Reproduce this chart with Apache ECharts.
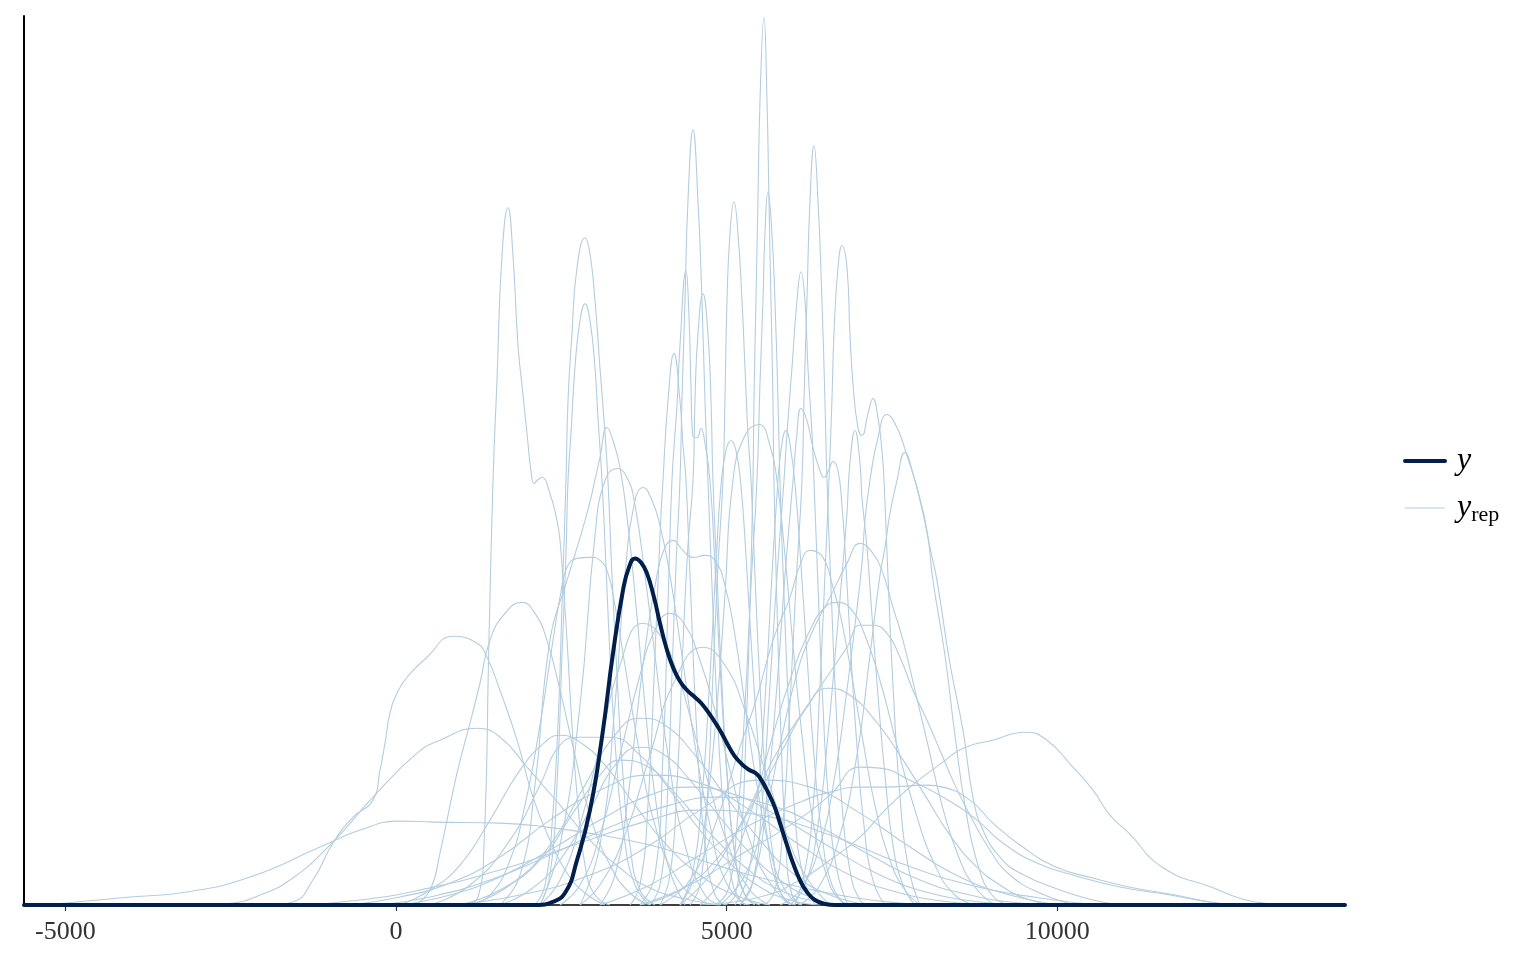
<!DOCTYPE html>
<html>
<head>
<meta charset="utf-8">
<title>ppc density overlay</title>
<script src="https://cdn.jsdelivr.net/npm/echarts@6/dist/echarts.min.js"></script>
<style>
  html, body { margin: 0; padding: 0; background: #fff; }
  #chart { width: 1536px; height: 960px; }
</style>
</head>
<body>
<div id="chart"></div>
<script>
// x tick labels
var xTicks = [-5000, 0, 5000, 10000];

// observed y density, [value, density]
var yObs = [[-5625,0],[2177,0],[2328,2],[2555,12],[2737,45],[2933,95],[3115,168],[3281,252],[3432,315],[3523,338],[3614,347],[3705,343],[3795,332],[3901,308],[3992,282],[4098,255],[4188,238],[4294,224],[4400,215],[4521,208],[4642,200],[4793,186],[4899,175],[5005,162],[5110,150],[5201,143],[5322,136],[5458,131],[5534,124],[5610,115],[5715,100],[5806,82],[5912,60],[6003,42],[6108,25],[6214,13],[6335,5],[6486,1],[6638,0],[14350,0]];

// replicated densities y_rep
var rep01 = [[968,0],[1240,8],[1331,60],[1406,265],[1467,425],[1527,525],[1603,650],[1693,698],[1769,650],[1845,560],[1905,520],[1981,472],[2041,435],[2087,422],[2147,426],[2208,428],[2328,412],[2434,385],[2480,365],[2525,325],[2586,265],[2661,180],[2752,100],[2858,40],[3009,10],[3236,0]];
var rep02 = [[2102,0],[2253,20],[2359,80],[2449,180],[2510,300],[2570,425],[2601,505],[2661,572],[2737,638],[2858,668],[2933,652],[3009,605],[3084,538],[3160,472],[3205,425],[3266,330],[3342,230],[3432,130],[3538,60],[3689,15],[3916,0]];
var rep03 = [[2177,0],[2328,30],[2434,120],[2510,250],[2570,350],[2601,425],[2646,472],[2706,538],[2782,585],[2858,602],[2933,585],[3009,538],[3054,488],[3115,425],[3175,340],[3236,250],[3326,150],[3447,70],[3614,20],[3840,0]];
var rep04 = [[1572,0],[1875,30],[2102,120],[2328,265],[2586,325],[2888,392],[3084,448],[3190,478],[3281,465],[3387,438],[3508,380],[3629,300],[3765,200],[3916,110],[4113,40],[4370,0]];
var rep05 = [[2177,0],[2480,60],[2782,200],[3009,370],[3160,425],[3342,437],[3493,428],[3614,400],[3765,330],[3916,250],[4113,150],[4370,60],[4672,10],[4899,0]];
var rep06 = [[2782,0],[3084,60],[3311,200],[3462,330],[3614,405],[3735,418],[3871,405],[3992,380],[4143,330],[4324,250],[4521,160],[4748,80],[4974,25],[5277,0]];
var rep07 = [[3538,0],[3689,20],[3810,100],[3916,250],[3992,370],[4037,425],[4113,505],[4203,552],[4294,505],[4339,461],[4385,425],[4445,330],[4551,170],[4672,60],[4823,10],[4974,0]];
var rep08 = [[3689,0],[3916,30],[4037,150],[4113,300],[4173,425],[4249,500],[4294,560],[4385,635],[4430,590],[4460,520],[4491,469],[4551,468],[4612,477],[4672,462],[4748,425],[4823,340],[4899,240],[5005,130],[5126,50],[5277,10],[5504,0]];
var rep09 = [[3840,0],[3992,20],[4098,100],[4173,230],[4234,340],[4294,425],[4324,505],[4370,605],[4415,705],[4491,776],[4566,705],[4627,605],[4672,505],[4717,425],[4778,320],[4854,200],[4944,100],[5050,35],[5201,5],[5352,0]];
var rep10 = [[3992,0],[4143,30],[4249,120],[4339,260],[4415,360],[4491,425],[4521,505],[4566,572],[4642,612],[4717,572],[4763,505],[4793,425],[4854,330],[4929,220],[5020,120],[5126,50],[5277,10],[5428,0]];
var rep11 = [[4445,0],[4596,20],[4702,100],[4793,230],[4869,340],[4944,425],[4974,505],[5005,605],[5050,672],[5111,704],[5171,672],[5232,605],[5277,538],[5322,472],[5368,425],[5428,330],[5504,220],[5594,120],[5700,50],[5836,10],[6033,0]];
var rep12 = [[4974,0],[5126,10],[5216,60],[5292,170],[5352,300],[5398,425],[5413,505],[5443,605],[5473,705],[5504,805],[5564,889],[5610,805],[5640,705],[5670,605],[5700,505],[5715,425],[5761,300],[5821,170],[5897,60],[5988,10],[6139,0]];
var rep13 = [[4823,0],[5020,15],[5156,80],[5277,200],[5368,320],[5458,425],[5504,522],[5549,605],[5579,672],[5625,714],[5685,672],[5730,605],[5776,505],[5806,425],[5867,310],[5942,190],[6033,90],[6154,30],[6335,0]];
var rep14 = [[5579,0],[5730,15],[5851,80],[5957,200],[6048,320],[6139,425],[6169,505],[6214,605],[6260,705],[6320,760],[6381,705],[6441,605],[6486,505],[6517,425],[6577,320],[6653,200],[6744,100],[6864,35],[7016,5],[7167,0]];
var rep15 = [[5201,0],[5383,20],[5534,100],[5655,220],[5761,330],[5867,425],[5912,472],[5988,538],[6063,605],[6124,634],[6184,605],[6229,538],[6290,472],[6320,425],[6381,320],[6456,200],[6547,100],[6668,35],[6834,0]];
var rep16 = [[6033,0],[6199,40],[6320,110],[6411,220],[6486,330],[6547,425],[6592,505],[6623,572],[6683,638],[6744,660],[6819,638],[6864,572],[6910,522],[6985,478],[7046,470],[7137,492],[7212,507],[7288,488],[7348,455],[7379,425],[7439,330],[7515,220],[7620,110],[7741,40],[7923,0]];
var rep17 = [[5806,0],[6108,15],[6411,60],[6638,130],[6789,200],[6940,280],[7046,342],[7091,385],[7167,425],[7288,468],[7424,491],[7575,478],[7726,450],[7878,418],[8029,375],[8119,325],[8301,250],[8452,170],[8603,100],[8800,40],[9012,10],[9253,0]];
var rep18 = [[6108,0],[6411,20],[6713,70],[6970,150],[7167,250],[7318,330],[7394,358],[7469,392],[7575,425],[7696,453],[7817,432],[7968,392],[8074,358],[8180,325],[8376,242],[8573,175],[8724,108],[8875,75],[9132,48],[9435,32],[10040,15],[10539,5],[10947,0]];
var rep19 = [[5957,0],[6184,20],[6381,80],[6532,170],[6653,260],[6759,342],[6819,392],[6864,442],[6940,475],[7016,442],[7046,408],[7122,358],[7197,290],[7288,210],[7394,130],[7515,60],[7666,20],[7847,0]];
var rep20 = [[5201,0],[5428,30],[5610,110],[5761,220],[5882,330],[6003,425],[6063,472],[6124,497],[6214,485],[6305,458],[6396,438],[6471,428],[6547,436],[6607,444],[6683,435],[6744,400],[6804,340],[6880,250],[6970,160],[7076,80],[7212,25],[7394,0]];
var rep21 = [[5126,0],[5322,30],[5473,110],[5594,220],[5685,330],[5761,410],[5821,455],[5897,475],[5972,455],[6048,410],[6124,340],[6214,250],[6320,150],[6441,70],[6592,20],[6789,0]];
var rep22 = [[4294,0],[4521,30],[4702,100],[4854,200],[4974,310],[5095,425],[5277,470],[5489,481],[5655,460],[5761,425],[5882,350],[6003,260],[6139,170],[6290,90],[6486,35],[6713,5],[6940,0]];
var rep23 = [[4294,0],[4476,30],[4627,110],[4748,230],[4838,340],[4914,420],[4990,455],[5065,465],[5141,455],[5216,420],[5292,350],[5383,250],[5489,150],[5610,70],[5761,20],[5957,0]];
var rep24 = [[3084,0],[3311,30],[3493,100],[3644,190],[3795,270],[3946,330],[4067,358],[4188,365],[4339,355],[4491,348],[4672,350],[4823,345],[4974,320],[5126,270],[5277,200],[5458,120],[5655,55],[5882,15],[6108,0]];
var rep25 = [[2480,0],[2782,20],[3084,70],[3387,150],[3689,230],[3916,275],[4143,292],[4370,280],[4596,245],[4823,195],[5050,135],[5322,70],[5625,25],[5957,0]];
var rep26 = [[2177,0],[2480,25],[2782,80],[3084,160],[3387,240],[3735,282],[3992,270],[4264,230],[4521,170],[4778,110],[5050,55],[5352,15],[5655,0]];
var rep27 = [[2782,0],[3084,20],[3462,70],[3840,150],[4218,225],[4642,258],[4974,240],[5277,195],[5579,135],[5882,75],[6184,30],[6562,0]];
var rep28 = [[3992,0],[4445,25],[4823,80],[5201,158],[5458,208],[5700,265],[5957,308],[6108,340],[6260,355],[6456,348],[6607,318],[6713,292],[6864,240],[7046,170],[7242,100],[7469,45],[7696,15],[7923,0]];
var rep29 = [[4899,0],[5277,30],[5579,90],[5806,160],[6063,232],[6305,275],[6562,308],[6819,342],[7016,362],[7212,352],[7363,332],[7515,298],[7666,265],[7847,215],[8044,160],[8256,100],[8497,50],[8754,18],[9057,0]];
var rep30 = [[4596,0],[4974,30],[5352,90],[5655,160],[5957,225],[6260,275],[6486,298],[6683,303],[6895,295],[7091,270],[7318,225],[7575,160],[7847,95],[8150,40],[8452,10],[8754,0]];
var rep31 = [[4294,0],[4748,30],[5201,80],[5504,120],[5806,158],[6305,208],[6819,258],[7016,280],[7212,280],[7424,272],[7620,248],[7817,215],[8029,185],[8225,155],[8452,120],[8679,90],[8981,55],[9284,30],[9737,12],[10266,0]];
var rep32 = [[4596,0],[5504,8],[6108,25],[6562,45],[7016,68],[7394,95],[7772,118],[8271,143],[8573,157],[9027,165],[9510,173],[9843,165],[10236,138],[10539,115],[10796,90],[11083,72],[11582,38],[12323,18],[13003,3],[13517,0]];
var rep33 = [[3084,0],[3840,20],[4596,50],[5352,80],[6108,103],[6562,113],[7016,118],[7363,118],[8029,120],[8271,118],[8679,105],[9027,82],[9435,60],[9979,38],[10539,27],[11083,18],[11703,11],[12323,3],[12761,0]];
var rep34 = [[3689,0],[4445,20],[5201,50],[5957,80],[6562,110],[7016,138],[7318,137],[7772,125],[8271,108],[8785,85],[9178,62],[9692,42],[10236,30],[10947,18],[11703,10],[12383,2],[12761,0]];
var rep35 = [[-5383,0],[-4990,2],[-4022,8],[-3160,13],[-2208,28],[-1149,58],[-544,75],[60,84],[559,83],[1572,82],[2283,78],[3084,70],[3840,60],[4596,45],[5352,30],[6108,18],[6864,8],[7620,2],[8225,0]];
var rep36 = [[-1905,0],[-1557,3],[-1255,25],[-953,62],[-650,88],[-348,105],[-242,135],[-166,162],[-91,192],[15,212],[166,228],[469,248],[862,269],[1225,262],[1376,248],[1572,215],[1830,165],[2071,108],[2328,65],[2586,32],[2858,12],[3160,0]];
var rep37 = [[-2964,0],[-2465,2],[-2056,10],[-1603,25],[-998,60],[-348,108],[318,152],[665,165],[1225,177],[1572,168],[1981,138],[2480,100],[2933,65],[3387,37],[3840,17],[4445,5],[4899,0]];
var rep38 = [[287,0],[514,15],[665,52],[922,132],[1119,182],[1270,222],[1421,265],[1648,292],[1905,303],[2102,292],[2283,265],[2480,215],[2706,150],[2933,90],[3236,40],[3538,12],[3840,0]];
var rep39 = [[1119,0],[1421,10],[1724,45],[1950,100],[2177,180],[2374,265],[2480,308],[2586,338],[2737,347],[2933,348],[3084,345],[3205,332],[3311,300],[3462,240],[3689,150],[3916,80],[4218,30],[4596,5],[4899,0]];
var rep40 = [[514,0],[1119,20],[1724,65],[2177,120],[2480,160],[2782,168],[3236,168],[3689,150],[4143,115],[4596,75],[5050,42],[5504,18],[5957,5],[6411,0]];
var rep41 = [[60,0],[514,15],[968,40],[1421,85],[1875,135],[2253,163],[2480,170],[2782,163],[3160,140],[3614,100],[4067,62],[4596,30],[5126,10],[5655,0]];
var rep42 = [[-696,0],[60,8],[816,22],[1572,48],[2328,85],[3084,115],[3840,130],[4596,122],[5352,95],[6108,60],[6864,30],[7620,12],[8376,3],[8981,0]];
var rep43 = [[60,0],[816,10],[1572,28],[2328,55],[3084,85],[3840,110],[4445,118],[5050,112],[5806,88],[6562,58],[7318,30],[8074,12],[8830,3],[9435,0]];
var rep44 = [[968,0],[1572,15],[2177,45],[2706,95],[3084,130],[3387,145],[3765,140],[4218,112],[4748,72],[5277,38],[5806,15],[6411,3],[6864,0]];
var rep45 = [[-242,0],[514,8],[1421,25],[2328,50],[3236,78],[4143,100],[4899,108],[5655,100],[6411,78],[7167,50],[7923,25],[8679,10],[9435,2],[10040,0]];
var rep46 = [[1119,0],[1724,20],[2328,60],[2858,120],[3311,170],[3689,187],[4067,180],[4521,150],[4974,110],[5504,65],[6033,30],[6562,10],[7167,0]];
var rep47 = [[3689,0],[4294,15],[4899,50],[5428,105],[5882,160],[6184,195],[6532,217],[6864,210],[7242,185],[7620,150],[7998,110],[8376,70],[8754,40],[9132,20],[9586,5],[10040,0]];
var rep48 = [[1572,0],[2026,15],[2480,45],[2933,95],[3311,140],[3689,158],[4067,150],[4445,125],[4899,88],[5352,52],[5806,25],[6260,8],[6713,0]];
var rep49 = [[-1452,0],[-544,5],[363,15],[1572,35],[2782,62],[3840,85],[4596,95],[5504,90],[6562,70],[7620,42],[8679,20],[9737,7],[10644,0]];
var rep50 = [[816,0],[1875,10],[2933,30],[3840,60],[4596,95],[5504,125],[6260,118],[7016,92],[7772,58],[8528,28],[9284,10],[10040,0]];

var yrepDraws = [rep01, rep02, rep03, rep04, rep05, rep06, rep07, rep08, rep09, rep10,
  rep11, rep12, rep13, rep14, rep15, rep16, rep17, rep18, rep19, rep20,
  rep21, rep22, rep23, rep24, rep25, rep26, rep27, rep28, rep29, rep30,
  rep31, rep32, rep33, rep34, rep35, rep36, rep37, rep38, rep39, rep40,
  rep41, rep42, rep43, rep44, rep45, rep46, rep47, rep48, rep49, rep50];

var serif = "'Liberation Serif', 'DejaVu Serif', serif";
var chart = echarts.init(document.getElementById('chart'));

var series = yrepDraws.map(function (d) {
  return {
    type: 'line',
    name: 'y_rep',
    data: d,
    smooth: 0.5,
    symbol: 'none',
    silent: true,
    lineStyle: { color: '#b3cde0', width: 1.1 },
    itemStyle: { color: '#b3cde0' },
    z: 2
  };
});
series.push({
  type: 'line',
  name: 'y',
  data: yObs,
  smooth: 0.5,
  symbol: 'none',
  silent: true,
  lineStyle: { color: '#011f4b', width: 4, cap: 'round' },
  itemStyle: { color: '#011f4b' },
  z: 3
});

var option = {
  backgroundColor: '#fff',
  animation: false,
  grid: { left: 24, right: 191, top: 16, bottom: 55 },
  xAxis: {
    type: 'value',
    min: -5625,
    max: 14350,
    splitLine: { show: false },
    axisLine: { lineStyle: { color: '#000', width: 1.5 } },
    axisTick: { show: true, length: 6, customValues: xTicks, lineStyle: { color: '#333', width: 1.2 } },
    axisLabel: {
      customValues: xTicks,
      margin: 14,
      color: '#333',
      fontSize: 26,
      fontFamily: serif,
      formatter: function (v) { return String(v); }
    }
  },
  yAxis: {
    type: 'value',
    min: 0,
    max: 890,
    splitLine: { show: false },
    axisLine: { show: true, onZero: false, lineStyle: { color: '#000', width: 2 } },
    axisTick: { show: false },
    axisLabel: { show: false }
  },
  legend: {
    orient: 'vertical',
    left: 1398,
    top: 440,
    itemWidth: 40,
    itemHeight: 30,
    itemGap: 15,
    itemStyle: { opacity: 0 },
    data: [
      { name: 'y', lineStyle: { width: 4, color: '#011f4b', cap: 'round' } },
      { name: 'y_rep', lineStyle: { width: 1, color: '#b3cde0' } }
    ],
    formatter: function (name) {
      return name === 'y' ? '{i|y}' : '{i|y}{s|rep}';
    },
    textStyle: {
      padding: [0, 0, 0, 7],
      rich: {
        i: { fontFamily: serif, fontStyle: 'italic', fontSize: 32, color: '#000' },
        s: { fontFamily: serif, fontSize: 22, color: '#000', padding: [14, 0, 0, 0] }
      }
    }
  },
  series: series
};
chart.setOption(option);
</script>
</body>
</html>
